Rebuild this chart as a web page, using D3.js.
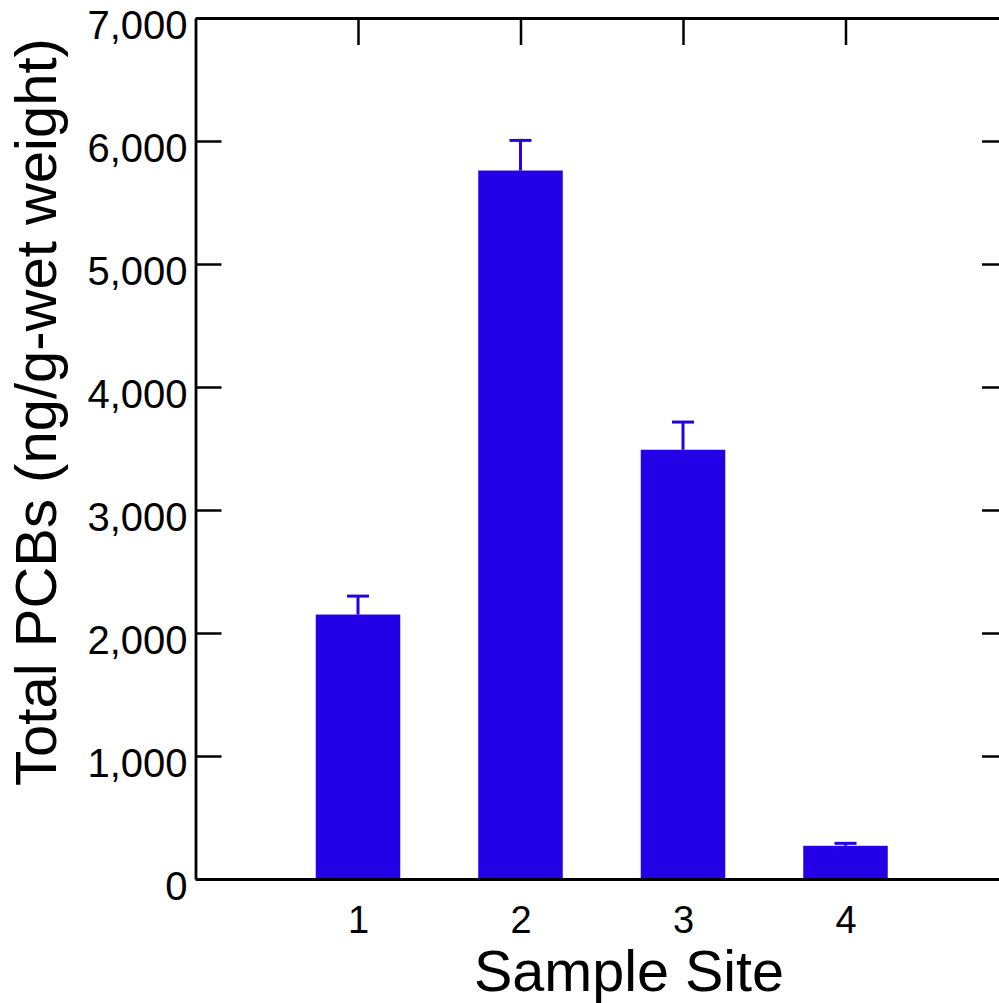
<!DOCTYPE html>
<html>
<head>
<meta charset="utf-8">
<script src="https://cdn.jsdelivr.net/npm/d3@7/dist/d3.min.js"></script>
<style>
  html, body { margin: 0; padding: 0; background: #fff; overflow: hidden; }
  svg { display: block; font-family: "Liberation Sans", Arial, sans-serif; }
</style>
</head>
<body>
<svg id="chart" width="999" height="1003"></svg>
<script>
// Total PCB concentration by sample site (mean with upper error bar)
const sites = [1, 2, 3, 4];
const totalPCBs = [2150, 5760, 3490, 270];
const errorTop = [2300, 6005, 3715, 290];
const yTicks = [0, 1000, 2000, 3000, 4000, 5000, 6000, 7000];

const svg = d3.select("#chart");

const x = d3.scaleLinear().domain([0, 5]).range([195.5, 1008]);
const y = d3.scaleLinear().domain([0, 7000]).range([879, 18]);
const barWidth = x(0.52) - x(0);
const capHalf = 11;
const barColor = "#2400e6";

// Bars
svg.append("g")
  .selectAll("rect")
  .data(sites)
  .join("rect")
  .attr("x", (d) => x(d) - barWidth / 2)
  .attr("y", (d, i) => y(totalPCBs[i]))
  .attr("width", barWidth)
  .attr("height", (d, i) => y(0) - y(totalPCBs[i]))
  .attr("fill", barColor);

// Upper error bars
const err = svg.append("g")
  .attr("stroke", barColor)
  .attr("stroke-width", 3)
  .attr("fill", "none");
err.selectAll("line.stem")
  .data(sites)
  .join("line")
  .attr("class", "stem")
  .attr("x1", (d) => x(d)).attr("x2", (d) => x(d))
  .attr("y1", (d, i) => y(totalPCBs[i]))
  .attr("y2", (d, i) => y(errorTop[i]));
err.selectAll("line.cap")
  .data(sites)
  .join("line")
  .attr("class", "cap")
  .attr("x1", (d) => x(d) - capHalf).attr("x2", (d) => x(d) + capHalf)
  .attr("y1", (d, i) => y(errorTop[i]))
  .attr("y2", (d, i) => y(errorTop[i]));

// Frame axes
function styleAxis(g) {
  g.selectAll("path.domain").attr("stroke", "#000").attr("stroke-width", 2.8);
  g.selectAll(".tick line").attr("stroke", "#000").attr("stroke-width", 2.5);
}

const leftAxis = svg.append("g")
  .attr("transform", `translate(${x(0)},0)`)
  .call(d3.axisLeft(y).tickValues(yTicks).tickSizeInner(-26).tickSizeOuter(0)
    .tickFormat(d3.format(",")));
styleAxis(leftAxis);
leftAxis.selectAll(".tick text")
  .attr("x", -8)
  .attr("dy", null)
  .attr("y", 20)
  .attr("fill", "#000")
  .attr("font-size", 40)
  .attr("font-family", "'Liberation Sans', Arial, sans-serif")
  .attr("text-anchor", "end");

const rightAxis = svg.append("g")
  .attr("transform", `translate(${x(5)},0)`)
  .call(d3.axisRight(y).tickValues(yTicks).tickSizeInner(-26).tickSizeOuter(0)
    .tickFormat(""));
styleAxis(rightAxis);

const topAxis = svg.append("g")
  .attr("transform", `translate(0,${y(7000)})`)
  .call(d3.axisTop(x).tickValues(sites).tickSizeInner(-27).tickSizeOuter(0)
    .tickFormat(""));
styleAxis(topAxis);

const bottomAxis = svg.append("g")
  .attr("transform", `translate(0,${y(0)})`)
  .call(d3.axisBottom(x).tickValues(sites).tickSizeInner(0).tickSizeOuter(0)
    .tickFormat(d3.format("d")));
styleAxis(bottomAxis);
bottomAxis.selectAll(".tick text")
  .attr("dy", null)
  .attr("y", 54)
  .attr("fill", "#000")
  .attr("font-size", 38)
  .attr("font-family", "'Liberation Sans', Arial, sans-serif");

// Axis titles
svg.append("text")
  .attr("x", 629)
  .attr("y", 991)
  .attr("text-anchor", "middle")
  .attr("font-size", 57.5)
  .attr("fill", "#000")
  .text("Sample Site");

svg.append("text")
  .attr("transform", "rotate(-90)")
  .attr("x", -412)
  .attr("y", 56)
  .attr("text-anchor", "middle")
  .attr("font-size", 58)
  .attr("fill", "#000")
  .text("Total PCBs (ng/g-wet weight)");
</script>
</body>
</html>
